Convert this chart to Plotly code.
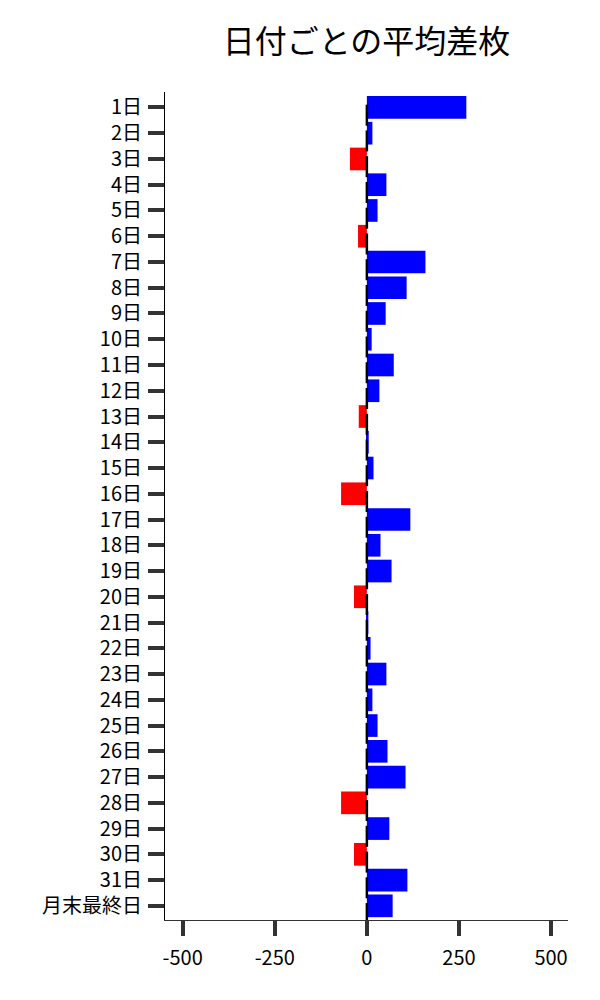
import plotly.graph_objects as go

categories = [f"{d}日" for d in range(1, 32)] + ["月末最終日"]
values = [270, 15, -46, 53, 29, -24, 159, 108, 51, 13,
          73, 34, -22, 5, 18, -70, 118, 37, 67, -35,
          4, 10, 53, 15, 29, 56, 105, -70, 61, -35,
          110, 70]
x_ticks = [-500, -250, 0, 250, 500]

idx = list(range(len(categories)))
colors = ["#0000ff" if v >= 0 else "#ff0000" for v in values]

fig = go.Figure()
fig.add_trace(go.Bar(
    x=values, y=idx, orientation="h",
    marker=dict(color=colors, line=dict(width=0)),
    width=0.88, showlegend=False,
))
fig.add_trace(go.Scatter(
    x=[0] * len(idx), y=[i + 0.3 for i in idx], mode="markers",
    marker=dict(symbol="line-ns", size=15, line=dict(width=2.5, color="black")),
    showlegend=False, hoverinfo="skip",
))

fig.update_layout(
    width=600, height=1000,
    margin=dict(l=157, r=40, t=84, b=88),
    plot_bgcolor="white", paper_bgcolor="white",
    font=dict(family="Noto Sans CJK JP", size=20, color="black"),
    title=dict(text="日付ごとの平均差枚", x=0.5, xref="paper", xanchor="center",
               y=0.966, yanchor="middle", font=dict(size=32, color="black")),
)
fig.update_yaxes(
    tickmode="array", tickvals=idx, ticktext=categories,
    range=[31.55, -0.6], showgrid=False, zeroline=False,
    showline=True, linecolor="black", linewidth=1,
    ticks="outside", ticklen=16, tickwidth=4, tickcolor="#333333",
    ticklabelstandoff=2,
)
fig.update_xaxes(
    tickmode="array", tickvals=x_ticks, ticktext=[str(t) for t in x_ticks],
    range=[-548, 546], showgrid=False, zeroline=False,
    showline=True, linecolor="#333333", linewidth=1,
    ticks="outside", ticklen=15, tickwidth=4, tickcolor="#333333",
    ticklabelstandoff=5,
)

fig.write_html("out.html")
